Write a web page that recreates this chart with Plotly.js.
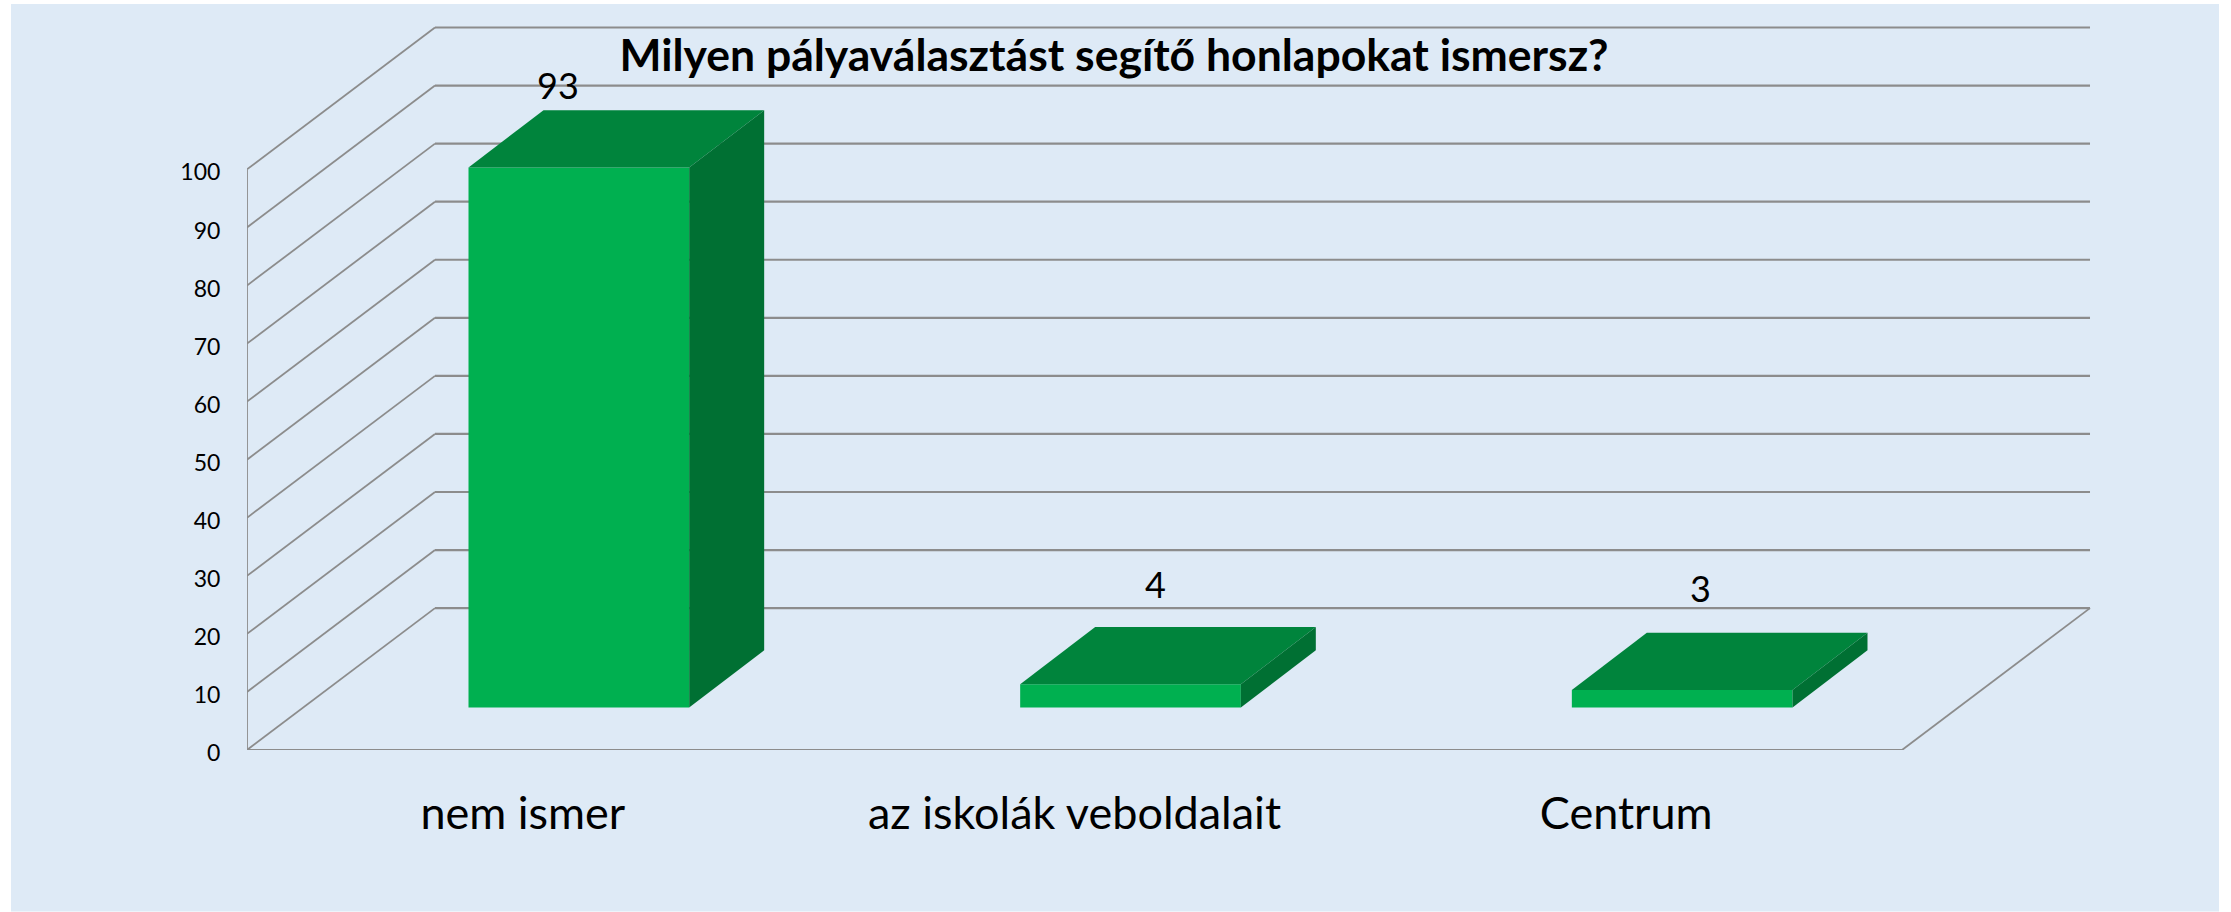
<!DOCTYPE html>
<html>
<head>
<meta charset="utf-8">
<script src="https://cdn.plot.ly/plotly-3.0.1.min.js"></script>
<style>html,body{margin:0;padding:0;background:#fff}#chart{width:2231px;height:912px}</style>
</head>
<body>
<div id="chart"></div>
<script>
// ---- data ----
const titleText = 'Milyen pályaválasztást segítő honlapokat ismersz?';
const categories = ['nem ismer', 'az iskolák veboldalait', 'Centrum'];
const values = [93, 4, 3];
const yTicks = [0, 10, 20, 30, 40, 50, 60, 70, 80, 90, 100];

// ---- projection of the fake 3D box, in axis units ----
const FONT = 'Lato, "Open Sans", sans-serif';
const W = 2231, H = 912;
const M = {l: 247, r: 136, t: 24, b: 161.5};
const plotW = W - M.l - M.r, plotH = H - M.t - M.b;
const pxX = 551.67, pxY = 5.81;               // pixels per axis unit
const xRange = [-0.5, -0.5 + plotW / pxX];
const yRange = [0, plotH / pxY];
const floorDX = 188 / pxX, floorDY = 142 / pxY; // full depth of the floor
const liftDX = 56 / pxX, liftDY = 42.6 / pxY;   // bar front plane inside the floor
const barDX = 75 / pxX, barDY = 57.2 / pxY;     // depth of a bar
const barW = 0.4;
const xL = -0.5, xR = 2.5;

const GRID = '#8c8c8c';
const FRONT = '#00B050', TOP = '#00843C', SIDE = '#007033', PANEL = '#DEEAF6';

// ---- grid ----
const diagX = [], diagY = [], horX = [], horY = [];
yTicks.forEach(v => {
  diagX.push(xL, xL + floorDX, null); diagY.push(v, v + floorDY, null);
  horX.push(xL + floorDX, xR + floorDX, null); horY.push(v + floorDY, v + floorDY, null);
});
// floor: front edge, right edge
horX.push(xL, xR, null); horY.push(0, 0, null);
diagX.push(xR, xR + floorDX, null); diagY.push(0, floorDY, null);
// front vertical axis
diagX.push(xL, xL, null); diagY.push(yTicks[0], yTicks[yTicks.length - 1], null);

const lineTrace = (x, y, w) => ({
  type: 'scatter', mode: 'lines', x, y, xaxis: 'x', yaxis: 'y', hoverinfo: 'skip',
  showlegend: false, cliponaxis: false, line: {color: GRID, width: w}, connectgaps: false
});

// ---- bars ----
const centres = categories.map((_, i) => i + liftDX);
const faceTrace = (xs, ys, colour) => ({
  type: 'scatter', mode: 'lines', x: xs, y: ys, xaxis: 'x2', yaxis: 'y2', fill: 'toself',
  fillcolor: colour, line: {width: 0, color: colour}, hoverinfo: 'skip', showlegend: false, cliponaxis: false
});
const faces = [];
values.forEach((v, i) => {
  const a = centres[i] - barW / 2, b = centres[i] + barW / 2, y0 = liftDY, y1 = liftDY + v;
  faces.push(faceTrace([a, b, b + barDX, a + barDX, a], [y1, y1, y1 + barDY, y1 + barDY, y1], TOP));
  faces.push(faceTrace([b, b + barDX, b + barDX, b, b], [y0, y0 + barDY, y1 + barDY, y1, y0], SIDE));
});

const bars = {
  type: 'bar', x: centres, y: values, base: categories.map(() => liftDY), width: barW,
  xaxis: 'x2', yaxis: 'y2', marker: {color: FRONT, line: {width: 0}}, showlegend: false,
  hovertemplate: '%{y}<extra></extra>'
};

// ---- value labels, hand-placed in the reference ----
const labelNudgeX = [-20.5, 24.5, 18.5];
const labelNudgeY = [25, 42.6, 45];
const annotations = values.map((v, i) => ({
  x: centres[i], y: liftDY + v + barDY, xref: 'x', yref: 'y', text: String(v), showarrow: false,
  xshift: labelNudgeX[i], yshift: labelNudgeY[i], xanchor: 'center', yanchor: 'middle',
  font: {family: FONT, size: 36, color: '#000'}
}));

const layout = {
  width: W, height: H, margin: {l: M.l, r: M.r, t: M.t, b: M.b, pad: 0},
  paper_bgcolor: '#ffffff', plot_bgcolor: 'rgba(0,0,0,0)', showlegend: false, barmode: 'overlay',
  title: {text: '<b>' + titleText + '</b>', x: 1114 / W, xref: 'container', xanchor: 'center',
          y: 1 - 55 / H, yref: 'container', yanchor: 'middle',
          font: {family: FONT, size: 44.5, color: '#000'}},
  xaxis: {range: xRange, tickmode: 'array', tickvals: [0, 1, 2], ticktext: categories, showgrid: false,
          zeroline: false, showline: false, ticks: 'outside', ticklen: 24, tickcolor: 'rgba(0,0,0,0)',
          tickfont: {family: FONT, size: 45, color: '#000'}, fixedrange: true},
  yaxis: {range: yRange, tickmode: 'array', tickvals: yTicks, showgrid: false, zeroline: false,
          showline: false, ticks: 'outside', ticklen: 21, tickcolor: 'rgba(0,0,0,0)', ticklabelshift: 3,
          tickfont: {family: FONT, size: 23, color: '#000'}, fixedrange: true},
  xaxis2: {range: xRange, overlaying: 'x', visible: false, fixedrange: true},
  yaxis2: {range: yRange, overlaying: 'y', visible: false, fixedrange: true},
  shapes: [{type: 'rect', xref: 'paper', yref: 'paper', layer: 'below',
            x0: (11 - M.l) / plotW, x1: (2219 - M.l) / plotW,
            y0: (H - 912 - M.b) / plotH, y1: (H - 4 - M.b) / plotH,
            fillcolor: PANEL, line: {width: 0}}],
  annotations
};

Plotly.newPlot('chart',
  [lineTrace(diagX, diagY, 1.8), lineTrace(horX, horY, 2.2), bars, ...faces],
  layout, {displayModeBar: false, responsive: false});
</script>
</body>
</html>
